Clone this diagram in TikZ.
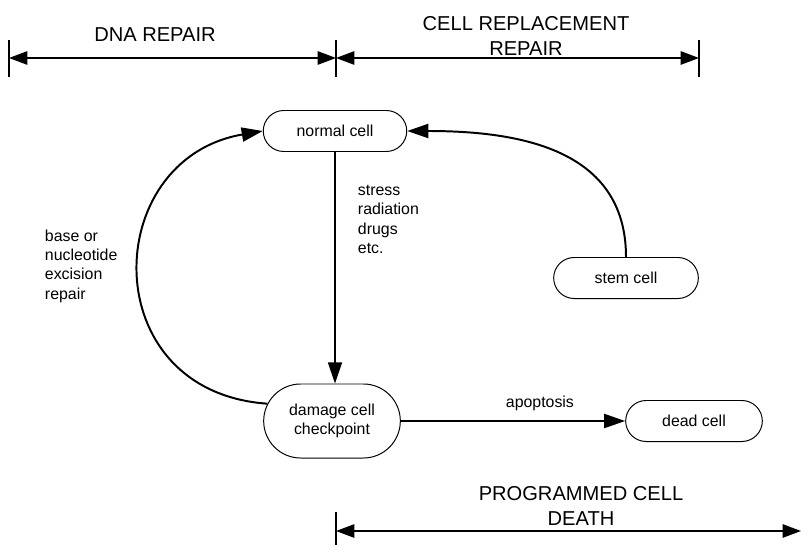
\documentclass[tikz,border=0pt]{standalone}
\usepackage{fontspec}
\setmainfont{Liberation Sans}
\usetikzlibrary{shapes.misc,arrows.meta}

\begin{document}
\begin{tikzpicture}[x=0.025cm, y=-0.025cm,
    celda/.style={draw, line width=0.7pt, rounded rectangle, align=center,
        minimum height=1.025cm, font=\fontsize{11.3}{13.6}\selectfont},
    texto/.style={align=left, font=\fontsize{11.3}{13.8}\selectfont},
    titulo/.style={align=center, font=\fontsize{14.3}{17.7}\selectfont},
    flujo/.style={line width=1.4pt, -{Triangle[length=15pt, width=10pt]}},
    cota/.style={line width=1pt, {Triangle[length=13pt, width=9.5pt]}-{Triangle[length=13pt, width=9.5pt]}},
    marca/.style={line width=1pt}]
    \useasboundingbox (0,0) rectangle (801,545);

    % Celdas
    \node[celda, minimum width=3.82cm] (normal) at (335,131) {normal cell};
    \node[celda, minimum width=3.65cm, minimum height=1.85cm] (damage) at (332,421) {damage cell\\checkpoint};
    \node[celda, minimum width=3.65cm] (dead) at (694,421) {dead cell};
    \node[celda, minimum width=3.85cm] (stem) at (626,278) {stem cell};

    % Flechas
    \draw[flujo, line width=0.9pt] (normal.south) -- (normal.south |- damage.north);
    \draw[flujo] (damage.east) -- (dead.west) node[texto, pos=0.62, above=3pt]{apoptosis};
    \draw[flujo] (damage.165) .. controls +(-173,-12) and +(-163,28) .. (normal.west);
    \draw[flujo] (stem.north) .. controls +(0,-108) and +(112,0) .. (normal.east);

    % Etiquetas
    \node[texto, anchor=north west] (causas) at (353,180) {stress\\radiation\\drugs\\etc.};
    \node[texto, anchor=west] (base) at (40,266) {base or\\nucleotide\\excision\\repair};

    % Cotas de arriba
    \draw[marca] (9,40) -- (9,77);
    \draw[marca] (336,40) -- (336,77);
    \draw[marca] (699,40) -- (699,77);
    \coordinate (dnaL) at (9,58);
    \coordinate (dnaR) at (336,58);
    \coordinate (repR) at (699,58);
    \draw[cota] (dnaL) -- (dnaR);
    \draw[cota] (dnaR) -- (repR);
    \node[titulo] (dna) at (155,35) {DNA REPAIR};
    \node[titulo] (cellrep) at (526,36) {CELL REPLACEMENT\\REPAIR};

    % Cota de abajo
    \draw[marca] (336,512) -- (336,545);
    \coordinate (pcdL) at (336,531);
    \coordinate (pcdR) at (801,531);
    \draw[cota] (pcdL) -- (pcdR);
    \node[titulo] (pcd) at (581,506) {PROGRAMMED CELL\\DEATH};
\end{tikzpicture}
\end{document}
